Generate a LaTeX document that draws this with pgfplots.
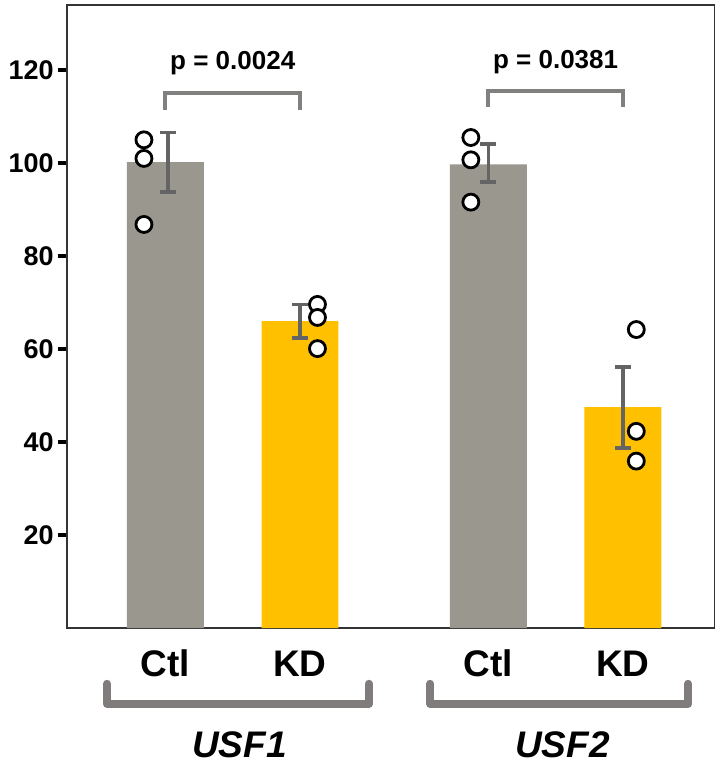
\documentclass[border=0pt]{standalone}
\usepackage{pgfplots}
\pgfplotsset{compat=1.18}
\usepackage{fontspec}
\setmainfont{Liberation Sans}
\definecolor{barGray}{RGB}{154,151,143}
\definecolor{barYellow}{RGB}{255,192,0}
\definecolor{errGray}{RGB}{100,100,100}
\definecolor{brkGray}{RGB}{128,128,126}
\definecolor{grpGray}{RGB}{128,124,124}
\begin{document}
\begin{tikzpicture}
\begin{axis}[
  name=ax,
  scale only axis,
  width=324pt, height=311.5pt,
  xmin=-0.732, xmax=4.085,
  ymin=0, ymax=134,
  clip=false,
  axis line style={line width=0.9pt, draw=black!80},
  xtick={0,1,2.4,3.4},
  xticklabels={Ctl,KD,Ctl,KD},
  x tick style={draw=none},
  xticklabel style={font=\fontsize{18.5}{18.5}\selectfont\bfseries, anchor=base, yshift=-19.5pt},
  ytick={20,40,60,80,100,120},
  ytick pos=left,
  tick align=outside,
  y tick style={line width=2pt, black},
  major tick length=4.5pt,
  yticklabel style={font=\fontsize{13.5}{14}\selectfont\bfseries, inner sep=2pt},
  /pgf/number format/assume math mode=true,
]
% bars
\addplot[ybar, bar width=0.572, bar shift=0pt, fill=barGray, draw=none]
  coordinates {(0,100.2) (2.4,99.7)};
\addplot[ybar, bar width=0.572, bar shift=0pt, fill=barYellow, draw=none]
  coordinates {(1,66.0) (3.4,47.5)};
% error bars
\addplot[draw=none, mark=none,
  error bars/.cd, y dir=both, y explicit,
  error bar style={line width=1.8pt, errGray},
  error mark options={line width=1.8pt, errGray, mark size=4pt, rotate=90}]
  coordinates {
    (0.02,100.2) +- (0,6.4)
    (1,66.0) +- (0,3.6)
    (2.4,100.0) +- (0,4.1)
    (3.4,47.4) +- (0,8.7)
  };
% individual points
\addplot[only marks, mark=*, mark size=4pt, mark options={fill=white, draw=black, line width=1.4pt}]
  coordinates {
    (-0.16,105.0) (-0.16,101.0) (-0.16,86.8)
    (1.13,69.6) (1.13,66.8) (1.13,60.1)
    (2.27,105.5) (2.27,100.7) (2.27,91.6)
    (3.50,64.2) (3.50,42.3) (3.50,35.9)
  };
% significance brackets
\draw[brkGray, line width=2pt] (axis cs:0,111.5) -- (axis cs:0,115.0) -- (axis cs:1,115.0) -- (axis cs:1,111.5);
\draw[brkGray, line width=2pt] (axis cs:2.4,112.1) -- (axis cs:2.4,115.6) -- (axis cs:3.4,115.6) -- (axis cs:3.4,112.1);
\node[font=\fontsize{13}{13}\selectfont\bfseries] at (axis cs:0.5,121.4) {p = 0.0024};
\node[font=\fontsize{13}{13}\selectfont\bfseries] at (axis cs:2.9,121.8) {p = 0.0381};
% group brackets
\draw[grpGray, line width=4pt, line cap=round, line join=round] (axis cs:-0.435,-12.0) -- (axis cs:-0.435,-16.3) -- (axis cs:1.513,-16.3) -- (axis cs:1.513,-12.0);
\draw[grpGray, line width=4pt, line cap=round, line join=round] (axis cs:1.967,-12.0) -- (axis cs:1.967,-16.3) -- (axis cs:3.885,-16.3) -- (axis cs:3.885,-12.0);
\node[font=\fontsize{18.5}{19}\selectfont\bfseries\itshape] at (axis cs:0.55,-25.1) {USF1};
\node[font=\fontsize{18.5}{19}\selectfont\bfseries\itshape] at (axis cs:2.95,-25.1) {USF2};
\end{axis}
\pgfresetboundingbox
\path[use as bounding box] ([shift={(-33.5pt,-72pt)}]ax.south west) rectangle ([shift={(-0.5pt,2.5pt)}]ax.north east);
\end{tikzpicture}
\end{document}
